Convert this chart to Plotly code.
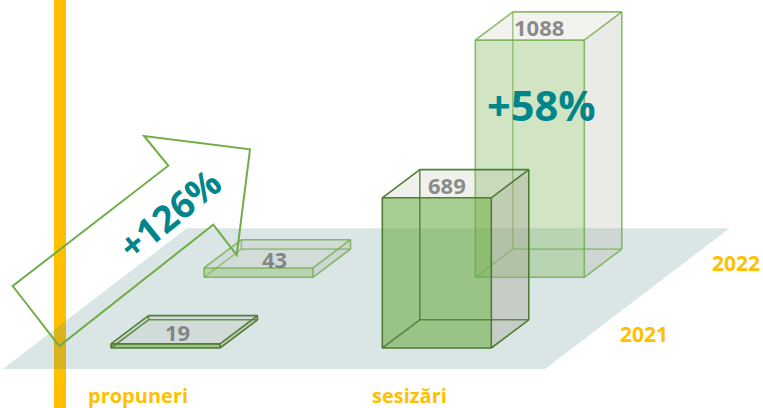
import plotly.graph_objects as go

categories = ["propuneri", "sesizări"]
series_names = ["2021", "2022"]
values_2021 = [19, 689]
values_2022 = [43, 1088]

# oblique projection of (category, series, value, depth) on the axes
X0, Y0 = 111.0, 348.0
CAT_STEP = 271.3
SER_DX, SER_DY = 93.0, -70.7
BAR_W = 109.0
DEPTH_X, DEPTH_Y = 37.5, -28.2
VAL_SCALE = 0.218


def project(cat, ser, value, across=0.0, depth=0.0):
    x = X0 + cat * CAT_STEP + ser * SER_DX + across * BAR_W + depth * DEPTH_X
    y = Y0 + ser * SER_DY - value * VAL_SCALE + depth * DEPTH_Y
    return x, y


def poly(points):
    pts = points + [points[0]]
    return [p[0] for p in pts], [p[1] for p in pts]


styles = {
    0: dict(front="rgba(112,173,71,0.60)", side="rgba(165,165,150,0.38)",
            top="rgba(165,165,150,0.17)", line="rgba(72,120,44,0.95)", inner="rgba(72,120,44,0.80)"),
    1: dict(front="rgba(112,173,71,0.32)", side="rgba(165,165,150,0.23)",
            top="rgba(165,165,150,0.15)", line="rgba(112,173,71,0.80)", inner="rgba(112,173,71,0.60)"),
}

fig = go.Figure()


def add_face(points, fill):
    x, y = poly(points)
    fig.add_trace(go.Scatter(x=x, y=y, mode="lines", fill="toself", fillcolor=fill,
                             line=dict(width=0), hoverinfo="skip", showlegend=False))


def add_edges(edges, color, width):
    xs, ys = [], []
    for a, b in edges:
        xs += [a[0], b[0], None]
        ys += [a[1], b[1], None]
    fig.add_trace(go.Scatter(x=xs, y=ys, mode="lines", line=dict(color=color, width=width),
                             hoverinfo="skip", showlegend=False, connectgaps=False))


def add_bar(cat, ser, value):
    s = styles[ser]
    p = lambda v, a, d: project(cat, ser, v, a, d)
    add_face([p(value, 0, 1), p(value, 1, 1), p(value, 1, 0), p(value, 0, 0)], s["top"])
    add_face([p(0, 1, 0), p(0, 1, 1), p(value, 1, 1), p(value, 1, 0)], s["side"])
    add_face([p(0, 0, 0), p(0, 1, 0), p(value, 1, 0), p(value, 0, 0)], s["front"])
    add_edges([
        (p(0, 0, 1), p(0, 1, 1)), (p(0, 0, 1), p(value, 0, 1)), (p(0, 0, 0), p(0, 0, 1)),
    ], s["inner"], 1.6)
    add_edges([
        (p(0, 0, 0), p(0, 1, 0)), (p(0, 1, 0), p(value, 1, 0)), (p(value, 1, 0), p(value, 0, 0)),
        (p(value, 0, 0), p(0, 0, 0)), (p(value, 0, 0), p(value, 0, 1)), (p(value, 0, 1), p(value, 1, 1)),
        (p(value, 1, 1), p(value, 1, 0)), (p(0, 1, 0), p(0, 1, 1)), (p(0, 1, 1), p(value, 1, 1)),
    ], s["line"], 1.6)


all_values = [values_2021, values_2022]
for cat in range(len(categories)):
    for ser in (1, 0):
        add_bar(cat, ser, all_values[ser][cat])

GRAY = "rgba(110,110,110,0.78)"
ORANGE = "#FFC000"
TEAL = "#00868A"
FAM = "Open Sans"

annotations = []


def label(x, y, text, size, color, angle=0):
    annotations.append(dict(x=x, y=y, xref="x", yref="y", text=text, showarrow=False, textangle=angle,
                            font=dict(family=FAM, size=size, color=color, weight="bold"),
                            xanchor="center", yanchor="middle"))


# small placement nudges of the value labels, (category, series) -> (dx, dy)
nudges = {(0, 0): (-7, 2), (0, 1): (-3, 5), (1, 0): (-8.5, 1), (1, 1): (-10, 1)}
for cat in range(len(categories)):
    for ser in range(len(series_names)):
        v = all_values[ser][cat]
        x, y = project(cat, ser, v, 0.5, 0.5)
        dx, dy = nudges[(cat, ser)]
        label(x + dx, y + dy, str(v), 22, GRAY)

for cat, name in enumerate(categories):
    x, _ = project(cat, 0, 0, 0.25, 0)
    label(x, 395, name, 20, ORANGE)

for ser, name in enumerate(series_names):
    x, y = project(0, ser, 0, 0, 0)
    label(x + 533 - ser, y - 14, name, 21, ORANGE)

label(541, 105, "+58%", 41.5, TEAL)
label(169, 213, "+126%", 37, TEAL, -39)

shapes = [
    dict(type="rect", x0=54, x1=66, y0=0, y1=408, xref="x", yref="y", layer="below",
         fillcolor=ORANGE, line=dict(width=0)),
    dict(type="path", path="M 2.7 369 L 545 369 L 729.5 228.3 L 186.7 228.3 Z", xref="x", yref="y",
         layer="below", fillcolor="rgba(83,139,139,0.216)", line=dict(width=0)),
    dict(type="path",
         path="M 12.7 286 L 59.3 346 L 213.3 224.7 L 236.7 255 L 250 149.3 L 144 136 L 168.3 165.7 Z",
         xref="x", yref="y", layer="above", fillcolor="rgba(0,0,0,0)",
         line=dict(color="#70AD47", width=2)),
]

fig.update_layout(
    width=763, height=408, margin=dict(l=0, r=0, t=0, b=0),
    paper_bgcolor="white", plot_bgcolor="white", showlegend=False,
    xaxis=dict(range=[0, 763], visible=False, fixedrange=True),
    yaxis=dict(range=[408, 0], visible=False, fixedrange=True),
    shapes=shapes, annotations=annotations,
)
fig.write_html("out.html", config=dict(displayModeBar=False),
               post_script="document.body.style.margin='0';document.body.style.overflow='hidden';")
